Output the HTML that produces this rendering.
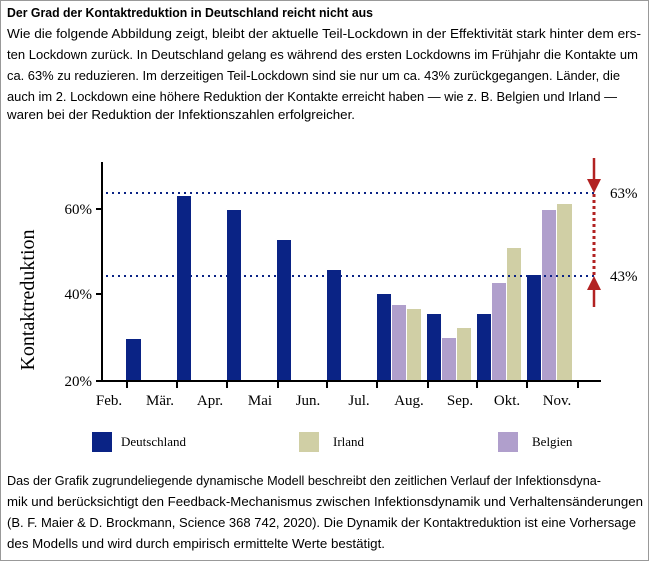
<!DOCTYPE html>
<html><head><meta charset="utf-8"><style>
html,body{margin:0;padding:0;background:#fff;}
svg{display:block;}
.t{font-family:"Liberation Sans",sans-serif;font-size:13px;fill:#000;}
.s{font-family:"Liberation Serif",serif;fill:#000;}
</style></head><body>
<svg width="649" height="561" viewBox="0 0 649 561" xmlns="http://www.w3.org/2000/svg">
<rect x="0.5" y="0.5" width="648" height="560" fill="#fff" stroke="#999"/>
<text class="t" x="7" y="17" font-weight="bold" font-size="14" textLength="366" lengthAdjust="spacingAndGlyphs">Der Grad der Kontaktreduktion in Deutschland reicht nicht aus</text>
<text class="t" x="7" y="38" textLength="634" lengthAdjust="spacingAndGlyphs">Wie die folgende Abbildung zeigt, bleibt der aktuelle Teil-Lockdown in der Effektivität stark hinter dem ers-</text>
<text class="t" x="7" y="59" textLength="631" lengthAdjust="spacingAndGlyphs">ten Lockdown zurück. In Deutschland gelang es während des ersten Lockdowns im Frühjahr die Kontakte um</text>
<text class="t" x="7" y="80" textLength="613" lengthAdjust="spacingAndGlyphs">ca. 63% zu reduzieren. Im derzeitigen Teil-Lockdown sind sie nur um ca. 43% zurückgegangen. Länder, die</text>
<text class="t" x="7" y="101" textLength="610" lengthAdjust="spacingAndGlyphs">auch im 2. Lockdown eine höhere Reduktion der Kontakte erreicht haben — wie z. B. Belgien und Irland —</text>
<text class="t" x="7" y="119" textLength="348" lengthAdjust="spacingAndGlyphs">waren bei der Reduktion der Infektionszahlen erfolgreicher.</text>

<g fill="#0a2385">
<rect x="126" y="339" width="15" height="42"/>
<rect x="177" y="196" width="14" height="185"/>
<rect x="227" y="210" width="14" height="171"/>
<rect x="277" y="240" width="14" height="141"/>
<rect x="327" y="270" width="14" height="111"/>
<rect x="377" y="294" width="14" height="87"/>
<rect x="427" y="314" width="14" height="67"/>
<rect x="477" y="314" width="14" height="67"/>
<rect x="527" y="275" width="14" height="106"/>
</g>
<g fill="#b09fcc">
<rect x="392" y="305" width="14" height="76"/>
<rect x="442" y="338" width="14" height="43"/>
<rect x="492" y="283" width="14" height="98"/>
<rect x="542" y="210" width="14" height="171"/>
</g>
<g fill="#d0cfa5">
<rect x="407" y="309" width="14" height="72"/>
<rect x="457" y="328" width="14" height="53"/>
<rect x="507" y="248" width="14" height="133"/>
<rect x="557" y="204" width="15" height="177"/>
</g>
<g stroke="#0a2385" stroke-width="2" stroke-dasharray="2 4">
<line x1="106" y1="193" x2="596" y2="193"/>
<line x1="106" y1="276" x2="596" y2="276"/>
</g>
<g stroke="#000" stroke-width="2" fill="none">
<line x1="102" y1="162" x2="102" y2="382"/>
<line x1="101" y1="381" x2="601" y2="381"/>
<line x1="96" y1="209" x2="102" y2="209"/>
<line x1="96" y1="294" x2="102" y2="294"/>
<line x1="96" y1="381" x2="102" y2="381"/>
<line x1="127" y1="381" x2="127" y2="388"/>
<line x1="177" y1="381" x2="177" y2="388"/>
<line x1="227" y1="381" x2="227" y2="388"/>
<line x1="278" y1="381" x2="278" y2="388"/>
<line x1="327" y1="381" x2="327" y2="388"/>
<line x1="377" y1="381" x2="377" y2="388"/>
<line x1="428" y1="381" x2="428" y2="388"/>
<line x1="477" y1="381" x2="477" y2="388"/>
<line x1="527" y1="381" x2="527" y2="388"/>
<line x1="578" y1="381" x2="578" y2="388"/>
</g>
<g class="s" font-size="15" text-anchor="end">
<text x="92" y="214">60%</text>
<text x="92" y="299">40%</text>
<text x="92" y="386">20%</text>
</g>
<g class="s" font-size="15" text-anchor="middle">
<text x="109" y="405">Feb.</text>
<text x="160" y="405">Mär.</text>
<text x="210" y="405">Apr.</text>
<text x="260" y="405">Mai</text>
<text x="308" y="405">Jun.</text>
<text x="359" y="405">Jul.</text>
<text x="409" y="405">Aug.</text>
<text x="460" y="405">Sep.</text>
<text x="507" y="405">Okt.</text>
<text x="557" y="405">Nov.</text>
</g>
<text class="s" font-size="20" text-anchor="middle" transform="translate(34,300) rotate(-90)">Kontaktreduktion</text>
<g stroke="#b22222" fill="#b22222">
<line x1="594" y1="158" x2="594" y2="180" stroke-width="2.5"/>
<polygon points="587,179 601,179 594,193" stroke="none"/>
<line x1="594" y1="194" x2="594" y2="276" stroke-width="3" stroke-dasharray="3 3"/>
<polygon points="587,290 601,290 594,276" stroke="none"/>
<line x1="594" y1="289" x2="594" y2="307" stroke-width="2.5"/>
</g>
<text class="s" font-size="15" x="610" y="198">63%</text>
<text class="s" font-size="15" x="610" y="281">43%</text>
<rect x="92" y="432" width="20" height="20" fill="#0a2385"/>
<text class="s" font-size="13" x="121" y="446">Deutschland</text>
<rect x="299" y="432" width="20" height="20" fill="#d0cfa5"/>
<text class="s" font-size="13" x="333" y="446">Irland</text>
<rect x="498" y="432" width="20" height="20" fill="#b09fcc"/>
<text class="s" font-size="13" x="532" y="446">Belgien</text>

<text class="t" x="7" y="485" textLength="594" lengthAdjust="spacingAndGlyphs">Das der Grafik zugrundeliegende dynamische Modell beschreibt den zeitlichen Verlauf der Infektionsdyna-</text>
<text class="t" x="7" y="506" textLength="636" lengthAdjust="spacingAndGlyphs">mik und berücksichtigt den Feedback-Mechanismus zwischen Infektionsdynamik und Verhaltensänderungen</text>
<text class="t" x="7" y="527" textLength="629" lengthAdjust="spacingAndGlyphs">(B. F. Maier &amp; D. Brockmann, Science 368 742, 2020). Die Dynamik der Kontaktreduktion ist eine Vorhersage</text>
<text class="t" x="7" y="548" textLength="378" lengthAdjust="spacingAndGlyphs">des Modells und wird durch empirisch ermittelte Werte bestätigt.</text>
</svg>
</body></html>
